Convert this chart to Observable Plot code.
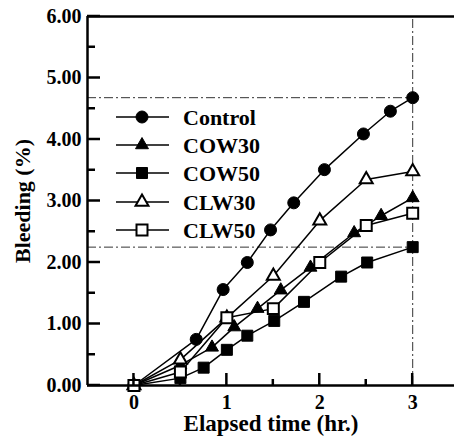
<!DOCTYPE html>
<html>
<head>
<meta charset="utf-8">
<script src="https://cdn.jsdelivr.net/npm/d3@7"></script>
<script src="https://cdn.jsdelivr.net/npm/@observablehq/plot@0.6"></script>
<style>
  html, body { margin: 0; padding: 0; background: #fff; }
  #chart { position: relative; width: 454px; height: 441px; }
</style>
</head>
<body>
<div id="chart"></div>
<script>
// ---- data ----
const seriesNames = ["Control", "COW30", "COW50", "CLW30", "CLW50"];
const controlX = [0, 0.67, 0.96, 1.22, 1.47, 1.72, 2.05, 2.47, 2.76, 3.0];
const controlY = [0, 0.75, 1.56, 2.0, 2.53, 2.97, 3.51, 4.09, 4.46, 4.68];
const cow30X = [0, 0.5, 0.84, 1.08, 1.33, 1.58, 1.9, 2.37, 2.66, 3.0];
const cow30Y = [0, 0.33, 0.62, 0.95, 1.25, 1.55, 1.92, 2.48, 2.76, 3.05];
const cow50X = [0, 0.5, 0.75, 1.0, 1.22, 1.51, 1.83, 2.23, 2.51, 3.0];
const cow50Y = [0, 0.12, 0.29, 0.58, 0.81, 1.05, 1.36, 1.77, 2.0, 2.25];
const clw30X = [0, 0.5, 1.0, 1.5, 2.0, 2.5, 3.0];
const clw30Y = [0, 0.42, 1.1, 1.78, 2.68, 3.35, 3.48];
const clw50X = [0, 0.5, 1.0, 1.5, 2.0, 2.5, 3.0];
const clw50Y = [0, 0.22, 1.1, 1.25, 2.0, 2.6, 2.8];
const xTickLabels = [0, 1, 2, 3];
const yTickLabels = [0, 1, 2, 3, 4, 5, 6];
const refLevels = [4.68, 2.25];   // dash-dot guide levels
const refTime = 3;                 // dash-dot vertical guide

const symbols = {Control: "circle", COW30: "triangle", COW50: "square", CLW30: "triangle", CLW50: "square"};
const filled = {Control: true, COW30: true, COW50: true, CLW30: false, CLW50: false};
const radius = {circle: 6, triangle: 4.8, square: 6.2};

const xs = [controlX, cow30X, cow50X, clw30X, clw50X];
const ys = [controlY, cow30Y, cow50Y, clw30Y, clw50Y];
const rows = [];
seriesNames.forEach((name, i) => {
  xs[i].forEach((t, j) => rows.push({series: name, t, v: ys[i][j]}));
});

const font = "'Liberation Serif', 'Times New Roman', serif";
const dotMarks = seriesNames.map(name => Plot.dot(rows.filter(d => d.series === name), {
  x: "t", y: "v",
  symbol: () => symbols[name],
  r: radius[symbols[name]],
  fill: filled[name] ? "black" : "white",
  stroke: "black",
  strokeWidth: filled[name] ? 1 : 2
}));

const chart = Plot.plot({
  width: 454, height: 441,
  marginLeft: 87, marginRight: 0, marginTop: 16, marginBottom: 56,
  style: {fontFamily: font, fontWeight: "bold", fontSize: "20px", background: "white", color: "black"},
  x: {domain: [-0.5, 3.45]},
  y: {domain: [0, 6]},
  symbol: {type: "identity"},
  marks: [
    Plot.ruleY(refLevels, {x1: -0.5, x2: refTime, stroke: "#333", strokeWidth: 1, strokeDasharray: "9,3,2,3"}),
    Plot.ruleX([refTime], {y1: 0, y2: 6, stroke: "#333", strokeWidth: 1, strokeDasharray: "9,3,2,3"}),
    Plot.line(rows, {x: "t", y: "v", z: "series", stroke: "black", strokeWidth: 1.5}),
    ...dotMarks,
    Plot.ruleY([0, 6], {stroke: "black", strokeWidth: 2.5}),
    Plot.ruleX([-0.5], {stroke: "black", strokeWidth: 2.5}),
    Plot.axisX(xTickLabels, {tickSize: 0, tickPadding: 9, tickFormat: d => String(d), label: null, fontSize: 20}),
    Plot.axisY(yTickLabels, {tickSize: 0, tickPadding: 6, tickFormat: d => d.toFixed(2), label: null, fontSize: 20}),
    Plot.text(["Elapsed time (hr.)"], {frameAnchor: "bottom", dy: 45, fontSize: 23, fontWeight: "bold"}),
    Plot.text(["Bleeding (%)"], {frameAnchor: "left", textAnchor: "middle", dx: -65, rotate: -90, fontSize: 22, fontWeight: "bold"})
  ]
});

document.getElementById("chart").appendChild(chart);

// inward tick marks and legend, positioned through the plot's scales
const svg = d3.select(chart);
const X = v => chart.scale("x").apply(v);
const Y = v => chart.scale("y").apply(v);
const left = X(-0.5), bottom = Y(0);
const ticks = svg.append("g").attr("stroke", "black").attr("stroke-width", 2.5);
d3.range(0, 6.01, 0.5).forEach(v => {
  const major = Math.abs(v - Math.round(v)) < 1e-6;
  ticks.append("line").attr("x1", left).attr("x2", left + (major ? 13 : 8))
    .attr("y1", Y(v)).attr("y2", Y(v));
});
d3.range(0, 3.01, 0.5).forEach(v => {
  const major = Math.abs(v - Math.round(v)) < 1e-6;
  ticks.append("line").attr("x1", X(v)).attr("x2", X(v))
    .attr("y1", bottom).attr("y2", bottom - (major ? 12 : 6));
});

const legendY = [117, 145, 173, 202, 230];
const lg = svg.append("g").attr("text-anchor", "start");
const d3sym = {circle: d3.symbolCircle, triangle: d3.symbolTriangle, square: d3.symbolSquare};
seriesNames.forEach((name, i) => {
  const y = legendY[i];
  lg.append("line").attr("x1", 116).attr("x2", 169).attr("y1", y).attr("y2", y)
    .attr("stroke", "black").attr("stroke-width", 1.5);
  const s = symbols[name], r = radius[s];
  lg.append("path").attr("transform", `translate(142,${y})`)
    .attr("d", d3.symbol(d3sym[s], Math.PI * r * r)())
    .attr("fill", filled[name] ? "black" : "white").attr("stroke", "black")
    .attr("stroke-width", filled[name] ? 1 : 2);
  lg.append("text").attr("x", 183).attr("y", y).attr("dy", "0.35em")
    .attr("text-anchor", "start")
    .attr("font-family", font).attr("font-weight", "bold").attr("font-size", 22)
    .text(name);
});
</script>
</body>
</html>
